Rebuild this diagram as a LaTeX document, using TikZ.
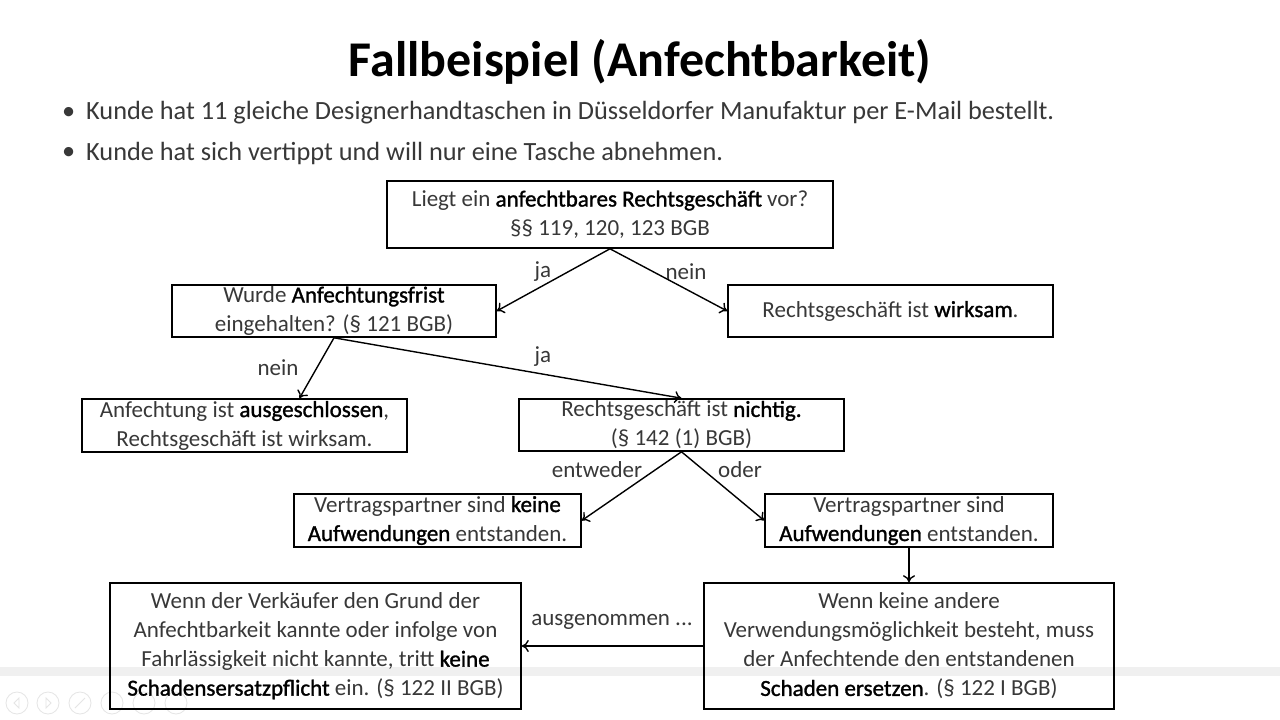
\documentclass[tikz,border=0pt]{standalone}
\usepackage{fontspec}
\setmainfont{Carlito}
\newfontfamily\semib[FakeBold=1.3]{Carlito}
\newcommand{\hb}[1]{{\semib\color{black}#1}}
\usetikzlibrary{arrows.meta,calc}
\begin{document}
\begin{tikzpicture}[x=1pt,y=-1pt,
  box/.style={draw=black, line width=1.6pt, align=center, inner sep=0pt,
    text=black!78, font=\fontsize{23}{29}\selectfont},
  arr/.style={line width=1.4pt, -{To[length=7pt,width=12pt]}},
  lbl/.style={text=black!78, font=\fontsize{23}{26}\selectfont, inner sep=0pt},
  bul/.style={anchor=west, text=black!78, font=\fontsize{26.3}{30}\selectfont, inner sep=0pt},
  icon/.style={draw=black!10, line width=0.8pt}
]
\useasboundingbox (0,0) rectangle (1280,720);
\fill[white] (0,0) rectangle (1280,720);
% faint presentation toolbar
\fill[black!6] (0,667) rectangle (1280,676);
\foreach \i/\xx in {1/17,2/48,3/80,4/112,5/144,6/176} {
  \draw[icon] (\xx,703) circle (11);
}
\draw[icon] (19,698) -- (14,703) -- (19,708) -- cycle;
\draw[icon] (46,698) -- (51,703) -- (46,708) -- cycle;
\draw[icon] (75,708) -- (85,698);

\node[font=\fontsize{50}{58}\selectfont\bfseries, text=black, inner sep=0pt] (title) at (640,62) {Fallbeispiel (Anfechtbarkeit)};
\node[bul] (b1d) at (62,113) {\textbullet};
\node[bul] (b1) at (86,113) {Kunde hat 11 gleiche Designerhandtaschen in Düsseldorfer Manufaktur per E-Mail bestellt.};
\node[bul] (b2d) at (62,153) {\textbullet};
\node[bul] (b2) at (86,153) {Kunde hat sich vertippt und will nur eine Tasche abnehmen.};

\node[box, minimum width=446pt, minimum height=67pt] (q) at (610,214.5)
  {Liegt ein \hb{anfechtbares Rechtsgeschäft} vor?\\ §§ 119, 120, 123 BGB};
\node[box, minimum width=324pt, minimum height=52pt] (f) at (334,311)
  {Wurde \hb{Anfechtungsfrist}\\ eingehalten? (§ 121 BGB)};
\node[box, minimum width=325pt, minimum height=52pt] (w) at (890.5,311)
  {Rechtsgeschäft ist \hb{wirksam}.};
\node[box, minimum width=325pt, minimum height=53pt] (a) at (244.5,425.5)
  {Anfechtung ist \hb{ausgeschlossen},\\ Rechtsgeschäft ist wirksam.};
\node[box, minimum width=325pt, minimum height=52pt] (n) at (681.5,425)
  {Rechtsgeschäft ist \hb{nichtig.}\\ (§ 142 (1) BGB)};
\node[box, minimum width=287pt, minimum height=53pt] (k) at (437.5,520.5)
  {Vertragspartner sind \hb{keine}\\ \hb{Aufwendungen} entstanden.};
\node[box, minimum width=288pt, minimum height=53pt] (e) at (909,520.5)
  {Vertragspartner sind\\ \hb{Aufwendungen} entstanden.};
\node[box, minimum width=411pt, minimum height=126pt] (l) at (315.5,646)
  {Wenn der Verkäufer den Grund der\\ Anfechtbarkeit kannte oder infolge von\\ Fahrlässigkeit nicht kannte, tritt \hb{keine}\\ \hb{Schadensersatzpflicht} ein. (§ 122 II BGB)};
\node[box, minimum width=410pt, minimum height=126pt] (r) at (909,646)
  {Wenn keine andere\\ Verwendungsmöglichkeit besteht, muss\\ der Anfechtende den entstandenen\\ \hb{Schaden ersetzen}. (§ 122 I BGB)};

\draw[arr] (q.south) -- (f.east);
\draw[arr] (q.south) -- (w.west);
\draw[arr] (f.south) -- ($(a.north)+(55,0)$);
\draw[arr] (f.south) -- (n.north);
\draw[arr] (n.south) -- (k.east);
\draw[arr] (n.south) -- (e.west);
\draw[arr] (e.south) -- (r.north);
\draw[arr] (r.west) -- (l.east);

\node[lbl] (lja1) at (543,272) {ja};
\node[lbl] (lnein1) at (686,272) {nein};
\node[lbl] (lnein2) at (278,368) {nein};
\node[lbl] (lja2) at (543,357) {ja};
\node[lbl] (lent) at (597,470) {entweder};
\node[lbl] (loder) at (740,470) {oder};
\node[lbl] (laus) at (612,622) {ausgenommen ...};
\end{tikzpicture}
\end{document}
